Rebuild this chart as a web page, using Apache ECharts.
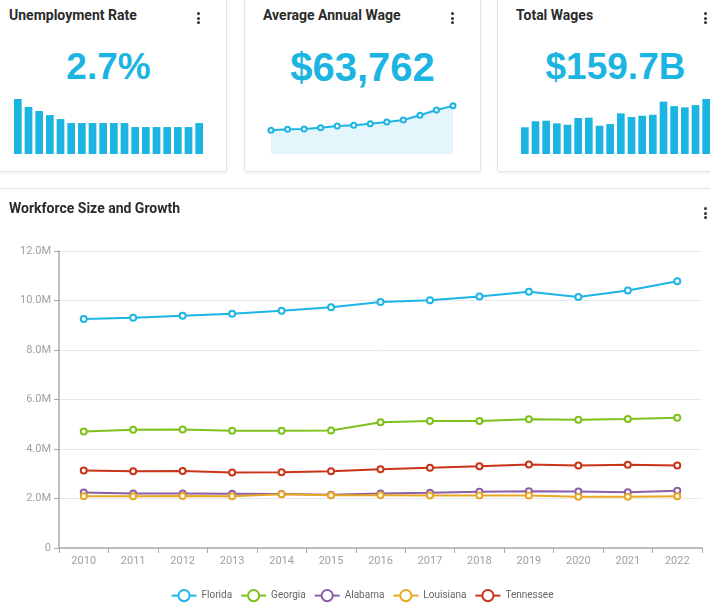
<!DOCTYPE html>
<html>
<head>
<meta charset="utf-8">
<script src="https://cdn.jsdelivr.net/npm/echarts@6/dist/echarts.min.js"></script>
<style>
  html, body { margin: 0; padding: 0; background: #fff; overflow: hidden; }
  body { width: 710px; height: 604px; position: relative; font-family: Roboto, sans-serif; }
  .wrap { position: absolute; left: -10px; top: 0; width: 744px; height: 604px; }
  .card, .panel {
    position: absolute; box-sizing: border-box; background: #fff;
    border: 1px solid #e3e3e3; border-radius: 3px;
    box-shadow: 0 1px 3px rgba(0, 0, 0, 0.08);
  }
  .card { top: -8px; width: 237px; height: 180px; }
  .panel { top: 188px; left: 0; width: 744px; height: 440px; }
  .title { position: absolute; left: 18px; font-size: 14px; font-weight: 700; color: #2b2b2b; white-space: nowrap; }
  .card .title { top: 14px; }
  .panel .title { top: 11px; }
  .dots { position: absolute; width: 3px; }
  .dots i { display: block; width: 3px; height: 3px; border-radius: 50%; background: #333; margin-bottom: 1.5px; }
  .card .dots { right: 26px; top: 19px; }
  .panel .dots { right: 26px; top: 18px; }
  .value {
    position: absolute; left: 0; right: 0; top: 55px; text-align: center;
    font-family: "Liberation Sans", Arial, sans-serif; font-weight: 700;
    color: #1cb5e2; line-height: 1;
  }
  .mini { position: absolute; left: 0; top: 97px; width: 235px; height: 80px; }
  #main { position: absolute; left: 0; top: 0; width: 742px; height: 438px; }
</style>
</head>
<body>
<div class="wrap">
  <div class="card" style="left:0">
    <div class="title">Unemployment Rate</div>
    <div class="dots"><i></i><i></i><i></i></div>
    <div class="value" style="font-size:37px">2.7%</div>
    <div class="mini" id="c1"></div>
  </div>
  <div class="card" style="left:254px">
    <div class="title">Average Annual Wage</div>
    <div class="dots"><i></i><i></i><i></i></div>
    <div class="value" style="font-size:40px;top:54px">$63,762</div>
    <div class="mini" id="c2"></div>
  </div>
  <div class="card" style="left:507px">
    <div class="title">Total Wages</div>
    <div class="dots"><i></i><i></i><i></i></div>
    <div class="value" style="font-size:37px">$159.7B</div>
    <div class="mini" id="c3"></div>
  </div>
  <div class="panel">
    <div id="main"></div>
    <div class="title">Workforce Size and Growth</div>
    <div class="dots"><i></i><i></i><i></i></div>
  </div>
</div>

<script>
// 卡片小图数据
var unemploymentRate = [4.8, 4.1, 3.75, 3.4, 3.05, 2.7, 2.7, 2.7, 2.7, 2.7, 2.7, 2.35, 2.35, 2.35, 2.35, 2.35, 2.35, 2.7];
var avgWage = [41500, 42400, 42700, 43900, 45400, 46100, 47500, 49100, 50900, 55200, 60000, 63762];
var totalWages = [77.5, 95, 96.7, 89, 85, 104.5, 105.5, 82, 87, 118, 107.5, 111, 114, 152, 139, 135.5, 142, 159.7];

// 主图数据（单位：百万）
var years = ['2010', '2011', '2012', '2013', '2014', '2015', '2016', '2017', '2018', '2019', '2020', '2021', '2022'];
var florida = [9.25, 9.30, 9.38, 9.46, 9.59, 9.73, 9.94, 10.01, 10.16, 10.35, 10.14, 10.40, 10.78];
var georgia = [4.71, 4.78, 4.79, 4.74, 4.74, 4.75, 5.08, 5.13, 5.13, 5.20, 5.18, 5.21, 5.26];
var alabama = [2.24, 2.20, 2.20, 2.19, 2.18, 2.15, 2.20, 2.23, 2.27, 2.29, 2.28, 2.25, 2.31];
var louisiana = [2.09, 2.09, 2.10, 2.09, 2.17, 2.13, 2.13, 2.12, 2.12, 2.12, 2.07, 2.07, 2.09];
var tennessee = [3.13, 3.10, 3.11, 3.05, 3.06, 3.10, 3.18, 3.24, 3.30, 3.37, 3.33, 3.36, 3.33];

var CYAN = '#1cb5e2';

function miniBar(id, data, max) {
    var chart = echarts.init(document.getElementById(id));
    chart.setOption({
        animation: false,
        grid: { left: 21.5, right: 21.5, top: 9, height: 55 },
        xAxis: { type: 'category', data: data.map(function (v, i) { return i; }), show: false },
        yAxis: { type: 'value', min: 0, max: max, show: false },
        series: [{
            type: 'bar',
            data: data,
            barCategoryGap: '28%',
            itemStyle: { color: CYAN }
        }]
    });
}

function miniLine() {
    var chart = echarts.init(document.getElementById('c2'));
    chart.setOption({
        animation: false,
        grid: { left: 26, right: 27, top: 9, height: 55 },
        xAxis: { type: 'category', boundaryGap: false, data: avgWage.map(function (v, i) { return i; }), show: false },
        yAxis: { type: 'value', min: 20000, max: 70000, show: false },
        series: [{
            type: 'line',
            data: avgWage,
            symbol: 'emptyCircle',
            symbolSize: 5,
            lineStyle: { color: CYAN, width: 2 },
            itemStyle: { color: CYAN, borderWidth: 2 },
            areaStyle: { color: '#e4f5fc', opacity: 1 }
        }]
    });
}

function mainChart() {
    var chart = echarts.init(document.getElementById('main'));
    var states = [
        { name: 'Florida', data: florida, color: '#1db5e5' },
        { name: 'Georgia', data: georgia, color: '#7dc11a' },
        { name: 'Alabama', data: alabama, color: '#8b5ea8' },
        { name: 'Louisiana', data: louisiana, color: '#e8a720' },
        { name: 'Tennessee', data: tennessee, color: '#c9341a' }
    ];
    chart.setOption({
        animation: false,
        color: states.map(function (s) { return s.color; }),
        textStyle: { fontFamily: 'Roboto' },
        grid: { left: 68, right: 31, top: 62, height: 297 },
        legend: {
            top: 395,
            left: 'center',
            itemWidth: 25,
            itemHeight: 14,
            itemGap: 8,
            textStyle: { color: '#666', fontSize: 10, fontFamily: 'Roboto' },
            data: states.map(function (s) { return s.name; })
        },
        xAxis: {
            type: 'category',
            data: years,
            axisLine: { lineStyle: { color: '#a8a8b0', width: 1.5 } },
            axisTick: { show: true, length: 5, lineStyle: { color: '#a8a8b0' } },
            axisLabel: { color: '#a0a0a0', fontSize: 11, margin: 8 }
        },
        yAxis: {
            type: 'value',
            min: 0,
            max: 12,
            interval: 2,
            axisLine: { show: true, lineStyle: { color: '#a8a8b0', width: 1.5 } },
            axisTick: { show: true, length: 5, lineStyle: { color: '#a8a8b0' } },
            axisLabel: {
                color: '#a0a0a0', fontSize: 11, margin: 8,
                formatter: function (v) { return v === 0 ? '0' : v.toFixed(1) + 'M'; }
            },
            splitLine: { lineStyle: { color: '#e6e9f1' } }
        },
        series: states.map(function (s) {
            return {
                name: s.name,
                type: 'line',
                data: s.data,
                symbol: 'emptyCircle',
                symbolSize: 6,
                lineStyle: { width: 2 },
                itemStyle: { borderWidth: 2 }
            };
        })
    });
}

miniBar('c1', unemploymentRate, 4.8);
miniLine();
miniBar('c3', totalWages, 159.7);
mainChart();
</script>
</body>
</html>
